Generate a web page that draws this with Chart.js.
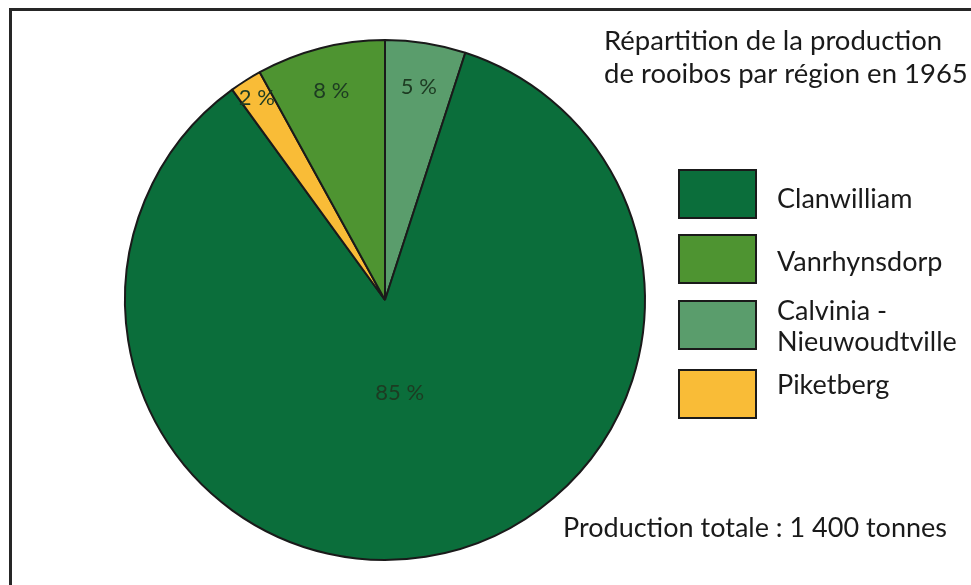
<!DOCTYPE html>
<html lang="fr">
<head>
    <meta charset="UTF-8">
    <title>Rooibos 1965</title>
    <script src="https://cdn.jsdelivr.net/npm/chart.js"></script>
    <style>
        body { margin: 0; background: #fff; }
        canvas { display: block; }
    </style>
</head>
<body>
    <canvas id="pieChart" width="971" height="585"></canvas>
    <script>
        // slices in clockwise order, starting at 12 o'clock
        const regions = ['Calvinia - Nieuwoudtville', 'Clanwilliam', 'Piketberg', 'Vanrhynsdorp'];
        const shares = [5, 85, 2, 8];
        const colors = ['#5a9d6c', '#0b6e3b', '#f9bc37', '#4e9431'];

        // legend (box colour index + text lines)
        const legendOrder = [1, 3, 0, 2];
        const legendLines = [['Clanwilliam'], ['Vanrhynsdorp'], ['Calvinia -', 'Nieuwoudtville'], ['Piketberg']];

        const titleLines = ['Répartition de la production', 'de rooibos par région en 1965'];
        const totalText = 'Production totale : 1 400 tonnes';

        const FONT = 'Lato, "Open Sans", sans-serif';

        const decorations = {
            id: 'decorations',
            afterDatasetsDraw(chart) {
                const ctx = chart.ctx;
                const arcs = chart.getDatasetMeta(0).data;
                ctx.save();

                // percent labels inside slices
                ctx.fillStyle = '#1d3b22';
                ctx.font = '22px ' + FONT;
                ctx.textAlign = 'center';
                ctx.textBaseline = 'middle';
                arcs.forEach((arc, i) => {
                    const p = arc.getProps(['x', 'y', 'startAngle', 'endAngle', 'outerRadius']);
                    const mid = (p.startAngle + p.endAngle) / 2;
                    let f = shares[i] > 50 ? 0.36 : (shares[i] < 3 ? 0.92 : 0.83);
                    ctx.fillText(shares[i] + ' %', p.x + Math.cos(mid) * p.outerRadius * f, p.y + Math.sin(mid) * p.outerRadius * f);
                });

                // titles
                ctx.fillStyle = '#1a1a1a';
                ctx.textAlign = 'left';
                ctx.textBaseline = 'alphabetic';
                ctx.font = '27.5px ' + FONT;
                ctx.fillText(titleLines[0], 604, 50);
                ctx.fillText(titleLines[1], 604, 83);
                ctx.font = '27px ' + FONT;
                ctx.fillText(totalText, 563, 537);

                // legend
                const boxY = [170, 235, 301, 370];
                const textY = [[208], [271], [320, 351], [394]];
                legendOrder.forEach((idx, k) => {
                    ctx.fillStyle = colors[idx];
                    ctx.fillRect(679, boxY[k], 77, 48);
                    ctx.lineWidth = 2;
                    ctx.strokeStyle = '#1a1a1a';
                    ctx.strokeRect(679, boxY[k], 77, 48);
                    ctx.fillStyle = '#1a1a1a';
                    legendLines[k].forEach((t, j) => ctx.fillText(t, 777, textY[k][j]));
                });

                // frame
                ctx.fillStyle = '#262626';
                ctx.fillRect(9, 8, 962, 3);
                ctx.fillRect(9, 8, 3, 577);
                ctx.restore();
            }
        };

        new Chart(document.getElementById('pieChart'), {
            type: 'pie',
            data: {
                labels: regions,
                datasets: [{
                    data: shares,
                    backgroundColor: colors,
                    borderColor: '#1a1a1a',
                    borderWidth: 2
                }]
            },
            options: {
                responsive: false,
                animation: false,
                layout: { padding: { left: 124, right: 325, top: 39, bottom: 24 } },
                plugins: {
                    legend: { display: false },
                    tooltip: { enabled: false }
                }
            },
            plugins: [decorations]
        });
    </script>
</body>
</html>
